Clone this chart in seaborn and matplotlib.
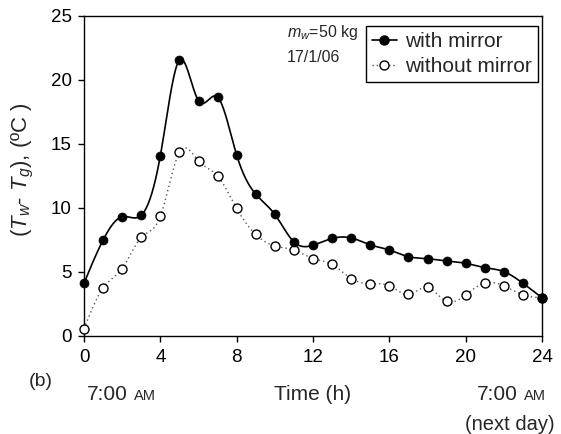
import numpy as np
import pandas as pd
import matplotlib
matplotlib.use("Agg")
import matplotlib.pyplot as plt
from matplotlib.lines import Line2D
import seaborn as sns

# ---- data ----
hours = list(range(25))
with_mirror = [4.12, 7.5, 9.32, 9.43, 14.08, 21.56, 18.38, 18.67, 14.14, 11.08, 9.5,
               7.35, 7.09, 7.62, 7.66, 7.12, 6.72, 6.2, 6.04, 5.86, 5.68, 5.34, 5.03, 4.12, 2.99]
without_mirror = [0.55, 3.76, 5.27, 7.71, 9.35, 14.36, 13.67, 12.5, 9.97, 7.93, 7.03,
                  6.72, 6.05, 5.6, 4.48, 4.09, 3.92, 3.26, 3.79, 2.7, 3.22, 4.14, 3.92, 3.22, 2.99]
series_names = ["with mirror", "without mirror"]
x_ticks = [0, 4, 8, 12, 16, 20, 24]
y_ticks = [0, 5, 10, 15, 20, 25]


def smooth(x, y, per=20):
    """natural cubic spline through the points (for drawing only)"""
    x = np.asarray(x, float); y = np.asarray(y, float)
    n = len(x); h = np.diff(x)
    A = np.zeros((n, n)); b = np.zeros(n)
    A[0, 0] = A[-1, -1] = 1.0
    for i in range(1, n - 1):
        A[i, i - 1] = h[i - 1]; A[i, i] = 2 * (h[i - 1] + h[i]); A[i, i + 1] = h[i]
        b[i] = 6 * ((y[i + 1] - y[i]) / h[i] - (y[i] - y[i - 1]) / h[i - 1])
    M = np.linalg.solve(A, b)
    xs, ys = [], []
    for i in range(n - 1):
        u = np.linspace(0, 1, per, endpoint=(i == n - 2))
        hi = h[i]
        s = ((1 - u) * y[i] + u * y[i + 1]
             + ((1 - u) ** 3 - (1 - u)) * M[i] * hi ** 2 / 6
             + (u ** 3 - u) * M[i + 1] * hi ** 2 / 6)
        xs.extend(x[i] + u * hi); ys.extend(s)
    return np.array(xs), np.array(ys)


sns.set_style("ticks")
plt.rcParams["font.family"] = ["Liberation Sans", "DejaVu Sans"]
plt.rcParams["mathtext.fontset"] = "custom"
plt.rcParams["mathtext.rm"] = "Liberation Sans"
plt.rcParams["mathtext.it"] = "Liberation Sans:italic"

fig = plt.figure(figsize=(5.61, 4.34), dpi=100)
ax = fig.add_axes([84 / 561, 1 - 336 / 434, (542 - 84) / 561, (336 - 16) / 434])

df = pd.DataFrame({"t": hours, series_names[0]: with_mirror, series_names[1]: without_mirror})

xs1, ys1 = smooth(df["t"], df[series_names[0]])
xs2, ys2 = smooth(df["t"], df[series_names[1]])
sns.lineplot(x=xs2, y=ys2, ax=ax, color="#555555", lw=1.0, linestyle=(0, (1, 2.2)),
             estimator=None, sort=False)
sns.lineplot(x=xs1, y=ys1, ax=ax, color="black", lw=1.2, estimator=None, sort=False)

sns.scatterplot(data=df, x="t", y=series_names[1], ax=ax, s=42, marker="o",
                facecolor="white", edgecolor="black", linewidth=1.0, clip_on=False, zorder=5)
sns.scatterplot(data=df, x="t", y=series_names[0], ax=ax, s=42, marker="o",
                color="black", edgecolor="black", linewidth=0.5, clip_on=False, zorder=6)

ax.set_xlim(0, 24)
ax.set_ylim(0, 25)
ax.set_xticks(x_ticks)
ax.set_yticks(y_ticks)
ax.tick_params(direction="out", length=4, width=1, labelsize=13.5, colors="black", pad=5)
for sp in ax.spines.values():
    sp.set_linewidth(1.0)
    sp.set_color("black")
ax.set_xlabel("")
ax.set_ylabel(r"($T_w$- $T_g$), (ºC )", fontsize=16)
ax.yaxis.set_label_coords((36 - 84) / 458, (336 - 170) / 320)

handles = [
    Line2D([0], [0], color="black", lw=1.2, marker="o", markersize=6.5,
           markerfacecolor="black", markeredgecolor="black"),
    Line2D([0], [0], color="#555555", lw=1.0, linestyle=(0, (1, 2)), marker="o",
           markersize=6.5, markerfacecolor="white", markeredgecolor="black"),
]
leg = ax.legend(handles, series_names, loc="upper right", bbox_to_anchor=(0.9915, 0.97),
                fontsize=15, frameon=True, fancybox=False, edgecolor="black",
                framealpha=1, handlelength=1.2, handletextpad=0.4, borderpad=0.3,
                labelspacing=0.3, borderaxespad=0)
leg.get_frame().set_linewidth(1.0)

fig.text(287 / 561, 1 - 32 / 434, r"$m_w$=50 kg", fontsize=11.5, va="center", ha="left")
fig.text(287 / 561, 1 - 58 / 434, "17/1/06", fontsize=11.5, va="center", ha="left")

fig.text(29 / 561, 1 - 382 / 434, "(b)", fontsize=14, va="center", ha="left")
fig.text(87 / 561, 1 - 395 / 434, "7:00", fontsize=15, va="center", ha="left")
fig.text(134 / 561, 1 - 396 / 434, "AM", fontsize=10.5, va="center", ha="left")
fig.text(313 / 561, 1 - 395 / 434, "Time (h)", fontsize=15, va="center", ha="center")
fig.text(518 / 561, 1 - 395 / 434, "7:00", fontsize=15, va="center", ha="right")
fig.text(546 / 561, 1 - 396 / 434, "AM", fontsize=10.5, va="center", ha="right")
fig.text(555 / 561, 1 - 425 / 434, "(next day)", fontsize=14.5, va="center", ha="right")

fig.savefig("out.png", dpi=100)
